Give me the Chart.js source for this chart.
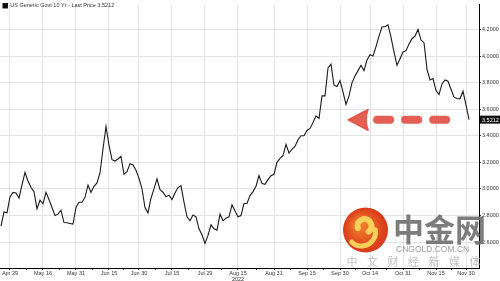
<!DOCTYPE html>
<html><head><meta charset="utf-8">
<script src="https://cdn.jsdelivr.net/npm/chart.js@4.4.1/dist/chart.umd.min.js"></script>
<style>html,body{margin:0;padding:0;background:#fff;overflow:hidden}canvas{display:block}</style>
</head><body>
<canvas id="c" width="500" height="281"></canvas>
<script>
// ---- data (one value per trading day, Apr 26 .. Nov 30, 2022) ----
const seriesName = 'US Generic Govt 10 Yr - Last Price 3.5212';
const yields = [
  2.72,2.826,2.82,2.94,2.974,2.97,2.932,3.03,3.124,3.06,
  3.01,2.98,2.85,2.915,2.888,2.975,2.92,2.86,2.80,2.81,
  2.84,2.747,2.745,2.74,2.735,2.86,2.90,2.90,2.937,3.03,
  2.974,3.02,3.045,3.12,3.30,3.47,3.33,3.22,3.21,3.225,
  3.245,3.11,3.13,3.19,3.18,3.14,3.08,3.00,2.86,2.82,
  2.93,3.00,3.076,2.994,2.975,2.94,2.952,2.92,2.97,3.01,
  3.024,2.90,2.79,2.76,2.804,2.79,2.70,2.655,2.59,2.65,
  2.73,2.70,2.69,2.81,2.76,2.78,2.79,2.88,2.833,2.79,
  2.80,2.89,2.89,2.95,2.98,3.02,3.10,3.04,3.035,3.07,
  3.10,3.11,3.20,3.23,3.25,3.335,3.27,3.30,3.32,3.37,
  3.40,3.40,3.44,3.455,3.50,3.55,3.53,3.70,3.70,3.91,
  3.939,3.78,3.77,3.815,3.73,3.635,3.70,3.80,3.85,3.89,
  3.93,3.89,3.97,4.01,4.00,4.07,4.15,4.22,4.22,4.235,
  4.142,4.03,3.93,3.98,4.03,4.04,4.09,4.13,4.15,4.20,
  4.12,4.10,3.90,3.82,3.83,3.74,3.71,3.79,3.82,3.81,
  3.75,3.69,3.68,3.678,3.735,3.63,3.5212
];
const tickPositions = [3,14,25,36,46,57,68,79,91,102,113,123,134,145,155];
const tickLabels = ['Apr 29','May 16','May 31','Jun 15','Jun 30','Jul 15','Jul 29',['Aug 15','2022'],'Aug 31','Sep 15','Sep 30','Oct 14','Oct 31','Nov 15','Nov 30'];
const yTicks = [2.6,2.8,3.0,3.2,3.4,3.6,3.8,4.0,4.2];
const lastPrice = 3.5212;
// decorations
const arrowLevel = 3.52;
const arrowTipIndex = 115.7;
const watermarkTitle = '中金网';
const watermarkSite = 'CNGOLD.COM.CN';
const watermarkSlogan = ['中','文','财','经','新','媒','体'];

const FONT = '"Liberation Sans", Arial, sans-serif';
const points = yields.map((v, i) => ({x: i, y: v}));
const majorSet = new Set(tickPositions);

const decorPlugin = {
  id: 'decor',
  afterDatasetsDraw(chart) {
    const ctx = chart.ctx, xs = chart.scales.x, ys = chart.scales.y;
    // red dashed arrow
    const ay = ys.getPixelForValue(arrowLevel);
    const tip = xs.getPixelForValue(arrowTipIndex);
    ctx.save();
    ctx.fillStyle = 'rgba(226,80,68,0.92)';
    ctx.strokeStyle = 'rgba(226,80,68,0.92)';
    ctx.beginPath();
    ctx.moveTo(tip, ay);
    ctx.lineTo(tip + 20, ay - 10.5);
    ctx.quadraticCurveTo(tip + 16, ay, tip + 20, ay + 10.5);
    ctx.closePath();
    ctx.lineJoin = 'round';
    ctx.lineWidth = 1.5;
    ctx.fill(); ctx.stroke();
    ctx.lineCap = 'round';
    ctx.lineWidth = 8;
    for (let k = 0; k < 3; k++) {
      const s = tip + 29 + k * 28;
      ctx.beginPath(); ctx.moveTo(s, ay); ctx.lineTo(s + 13, ay); ctx.stroke();
    }
    ctx.restore();
  },
  afterDraw(chart) {
    const ctx = chart.ctx, ys = chart.scales.y;
    // watermark
    ctx.save();
    const cx = 365.5, cy = 230, r = 22.5;
    const g = ctx.createRadialGradient(cx - 6, cy - 6, 4, cx, cy, r);
    g.addColorStop(0, '#f07a2a'); g.addColorStop(1, '#d9361a');
    ctx.fillStyle = g;
    ctx.beginPath(); ctx.arc(cx, cy, r, 0, Math.PI * 2); ctx.fill();
    ctx.strokeStyle = '#fbd05a'; ctx.lineCap = 'round';
    ctx.lineWidth = 6;
    ctx.beginPath(); ctx.arc(cx - 1, cy - 4, 7, Math.PI * 0.9, Math.PI * 2.3); ctx.stroke();
    ctx.lineWidth = 5;
    ctx.beginPath(); ctx.arc(cx - 4, cy + 2, 14, Math.PI * 1.95, Math.PI * 0.75); ctx.stroke();
    ctx.fillStyle = 'rgba(110,110,110,0.9)';
    ctx.font = 'bold 31px "Noto Sans CJK SC", sans-serif';
    ctx.textBaseline = 'middle'; ctx.textAlign = 'left';
    ctx.fillText(watermarkTitle, 393, 229);
    ctx.fillStyle = 'rgba(140,140,140,0.85)';
    ctx.font = '8.5px ' + FONT;
    ctx.fillText(watermarkSite, 396, 250);
    ctx.fillStyle = 'rgba(175,175,175,0.8)';
    ctx.font = '11px "Noto Sans CJK SC", sans-serif';
    ctx.textAlign = 'center';
    watermarkSlogan.forEach((ch, k) => ctx.fillText(ch, 352 + k * 20.5, 262));
    ctx.restore();
    // last price tag
    const py = ys.getPixelForValue(lastPrice);
    ctx.save();
    ctx.fillStyle = '#111';
    ctx.fillRect(ys.left + 1, py - 4, chart.width - ys.left - 1, 8);
    ctx.fillStyle = '#fff';
    ctx.font = '5.5px ' + FONT;
    ctx.textBaseline = 'middle'; ctx.textAlign = 'left';
    ctx.fillText(lastPrice.toFixed(4), ys.left + 3, py + 0.5);
    ctx.restore();
  }
};

new Chart(document.getElementById('c'), {
  type: 'line',
  data: { datasets: [{
    label: seriesName,
    data: points,
    borderColor: '#1a1a1a',
    backgroundColor: '#000',
    borderWidth: 1.1,
    pointRadius: 0,
    tension: 0
  }]},
  options: {
    responsive: false,
    animation: false,
    devicePixelRatio: 1,
    layout: { padding: 0 },
    plugins: {
      tooltip: { enabled: false },
      legend: {
        position: 'chartArea', align: 'start',
        labels: { boxWidth: 4.5, boxHeight: 4.5, padding: 3, color: '#333',
          font: { size: 5.5, family: FONT } }
      }
    },
    scales: {
      x: {
        type: 'linear', min: -0.33, max: 159.33,
        afterBuildTicks(scale) {
          const t = [];
          tickPositions.forEach((p, k) => {
            t.push({ value: p });
            if (k < tickPositions.length - 1) t.push({ value: (p + tickPositions[k + 1]) / 2 });
          });
          scale.ticks = t;
        },
        afterFit(scale) { scale.height = 13; },
        border: { display: true, color: '#000', width: 1 },
        grid: {
          color: (c) => (c.tick && majorSet.has(c.tick.value)) ? '#e3e3e3' : 'rgba(0,0,0,0)',
          tickColor: '#333', tickLength: 2, drawTicks: true
        },
        ticks: {
          autoSkip: false, maxRotation: 0, padding: 0, color: '#333',
          font: { size: 5.5, family: FONT, lineHeight: 1.1 },
          callback: (v) => { const k = tickPositions.indexOf(v); return k >= 0 ? tickLabels[k] : ''; }
        }
      },
      y: {
        position: 'right', min: 2.405, max: 4.389,
        afterBuildTicks(scale) { scale.ticks = yTicks.map(v => ({ value: v })); },
        afterFit(scale) { scale.width = 21; },
        border: { display: true, color: '#000', width: 1 },
        grid: { color: '#e3e3e3', tickColor: '#333', tickLength: 2, drawTicks: true },
        ticks: { padding: 1, color: '#333', font: { size: 5.5, family: FONT },
          callback: (v) => Number(v).toFixed(4) }
      }
    }
  },
  plugins: [decorPlugin]
});
</script>
</body></html>
